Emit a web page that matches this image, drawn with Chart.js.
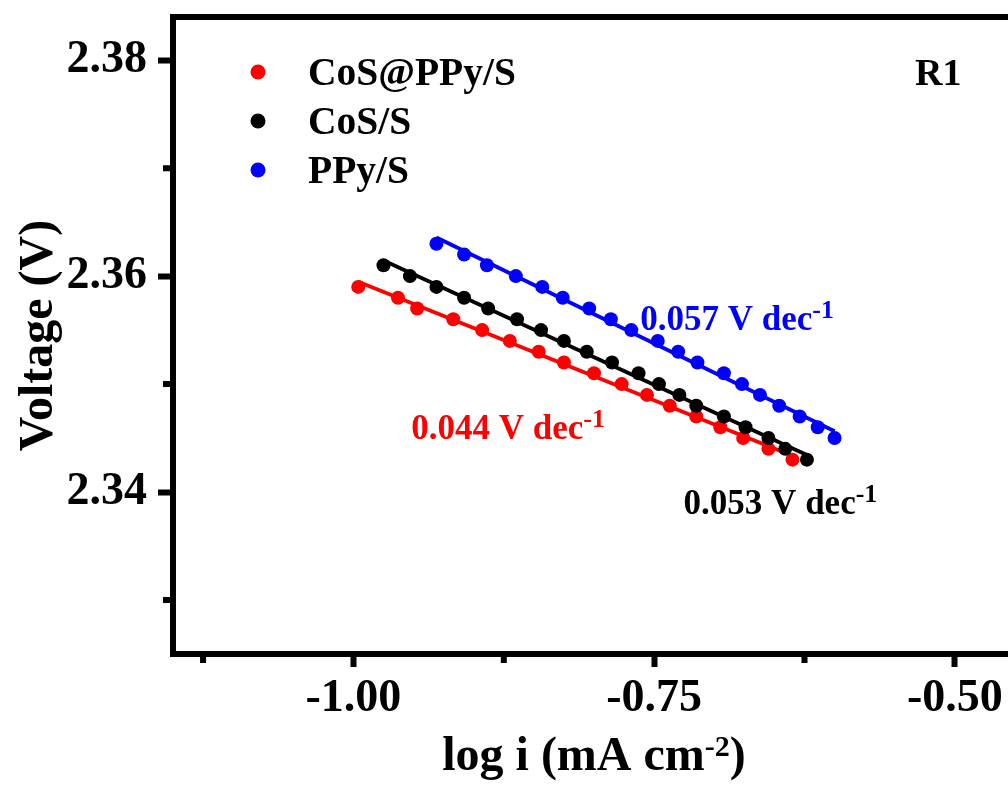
<!DOCTYPE html>
<html><head><meta charset="utf-8">
<script src="https://cdn.jsdelivr.net/npm/chart.js@4.4.1/dist/chart.umd.min.js"></script>
<style>
html,body{margin:0;padding:0;overflow:hidden;background:#fff;width:1008px;height:790px}
#wrap{position:absolute;left:0;top:0;width:1040px;height:790px}
</style>
</head><body>
<div id="wrap"><canvas id="c" width="1040" height="790"></canvas></div>
<script>
// ---------------- data ----------------
const seriesNames = ['CoS@PPy/S', 'CoS/S', 'PPy/S'];
const slopeTexts = ['0.044', '0.053', '0.057'];

const redX = [-0.996, -0.963, -0.947, -0.917, -0.893, -0.870, -0.846, -0.825, -0.800, -0.777, -0.756, -0.737, -0.715, -0.695, -0.676, -0.655, -0.635];
const redY = [2.359, 2.358, 2.357, 2.356, 2.355, 2.354, 2.353, 2.352, 2.351, 2.350, 2.349, 2.348, 2.347, 2.346, 2.345, 2.344, 2.343];

const blackX = [-0.975, -0.953, -0.931, -0.908, -0.888, -0.864, -0.844, -0.825, -0.806, -0.785, -0.763, -0.746, -0.729, -0.715, -0.692, -0.674, -0.655, -0.641, -0.623];
const blackY = [2.361, 2.360, 2.359, 2.358, 2.357, 2.356, 2.355, 2.354, 2.353, 2.352, 2.351, 2.350, 2.349, 2.348, 2.347, 2.346, 2.345, 2.344, 2.343];

const blueX = [-0.931, -0.908, -0.889, -0.865, -0.843, -0.826, -0.804, -0.786, -0.769, -0.747, -0.730, -0.714, -0.692, -0.677, -0.662, -0.646, -0.629, -0.614, -0.600];
const blueY = [2.363, 2.362, 2.361, 2.360, 2.359, 2.358, 2.357, 2.356, 2.355, 2.354, 2.353, 2.352, 2.351, 2.350, 2.349, 2.348, 2.347, 2.346, 2.345];

const xTickValues = [-1.00, -0.75, -0.50];
const xMinorTicks = [-1.125, -0.875, -0.625];
const yTickValues = [2.34, 2.36, 2.38];
const yMinorTicks = [2.33, 2.35, 2.37];

// ---------------- styles / layout ----------------
const colors = ['#ff0000', '#000000', '#0000ff'];
const FONT = '"Liberation Serif", "Times New Roman", serif';
// slope label anchors (data coordinates of the left end of the text baseline)
const slopeAnchors = [
  { x: -0.952, y: 2.3449 },
  { x: -0.7255, y: 2.3380 },
  { x: -0.7615, y: 2.3550 }
];

const xs = [redX, blackX, blueX];
const ys = [redY, blackY, blueY];

function linFit(X, Y) {
  const n = X.length;
  let sx = 0, sy = 0, sxx = 0, sxy = 0;
  for (let i = 0; i < n; i++) { sx += X[i]; sy += Y[i]; sxx += X[i] * X[i]; sxy += X[i] * Y[i]; }
  const m = (n * sxy - sx * sy) / (n * sxx - sx * sx);
  const b = (sy - m * sx) / n;
  const x0 = Math.min(...X), x1 = Math.max(...X);
  return [{ x: x0, y: m * x0 + b }, { x: x1, y: m * x1 + b }];
}

const datasets = [];
const pointOrder = [2, 1, 0];
seriesNames.forEach((name, i) => {
  datasets.push({
    label: name,
    data: xs[i].map((x, k) => ({ x: x, y: ys[i][k] })),
    backgroundColor: colors[i],
    borderColor: colors[i],
    borderWidth: 0,
    pointRadius: 7,
    pointHoverRadius: 7,
    showLine: false,
    order: pointOrder[i]
  });
});
seriesNames.forEach((name, i) => {
  datasets.push({
    label: name + ' fit',
    data: linFit(xs[i], ys[i]),
    borderColor: colors[i],
    backgroundColor: colors[i],
    borderWidth: 3.8,
    pointRadius: 0,
    showLine: true,
    fill: false,
    order: 5 + i
  });
});

function drawSupText(ctx, x, y, main, sup, tail, size, supSize, raise, color) {
  ctx.save();
  ctx.fillStyle = color;
  ctx.textBaseline = 'alphabetic';
  ctx.textAlign = 'left';
  ctx.font = 'bold ' + size + 'px ' + FONT;
  ctx.fillText(main, x, y);
  let cx = x + ctx.measureText(main).width;
  ctx.font = 'bold ' + supSize + 'px ' + FONT;
  ctx.fillText(sup, cx, y - raise);
  cx += ctx.measureText(sup).width;
  if (tail) {
    ctx.font = 'bold ' + size + 'px ' + FONT;
    ctx.fillText(tail, cx, y);
  }
  ctx.restore();
}
function supWidth(ctx, main, sup, tail, size, supSize) {
  ctx.save();
  ctx.font = 'bold ' + size + 'px ' + FONT;
  let w = ctx.measureText(main).width + (tail ? ctx.measureText(tail).width : 0);
  ctx.font = 'bold ' + supSize + 'px ' + FONT;
  w += ctx.measureText(sup).width;
  ctx.restore();
  return w;
}

const decor = {
  id: 'decor',
  afterDraw(chart) {
    const ctx = chart.ctx;
    const a = chart.chartArea;
    const sx = chart.scales.x, sy = chart.scales.y;
    ctx.save();
    // frame top & right
    ctx.strokeStyle = '#000';
    ctx.lineWidth = 6;
    ctx.beginPath();
    ctx.moveTo(a.left - 3, a.top);
    ctx.lineTo(a.right + 3, a.top);
    ctx.moveTo(a.right, a.top - 3);
    ctx.lineTo(a.right, a.bottom + 3);
    ctx.stroke();
    // minor ticks
    ctx.beginPath();
    xMinorTicks.forEach(v => {
      const px = sx.getPixelForValue(v);
      ctx.moveTo(px, a.bottom);
      ctx.lineTo(px, a.bottom + 9);
    });
    yMinorTicks.forEach(v => {
      const py = sy.getPixelForValue(v);
      ctx.moveTo(a.left, py);
      ctx.lineTo(a.left - 10, py);
    });
    ctx.stroke();

    // axis titles
    ctx.fillStyle = '#000';
    ctx.font = 'bold 48px ' + FONT;
    ctx.textAlign = 'center';
    ctx.textBaseline = 'alphabetic';
    ctx.save();
    ctx.translate(52, (a.top + a.bottom) / 2);
    ctx.rotate(-Math.PI / 2);
    ctx.fillText('Voltage (V)', 0, 0);
    ctx.restore();

    const tw = supWidth(ctx, 'log i (mA cm', '-2', ')', 48, 30);
    drawSupText(ctx, (a.left + a.right) / 2 - tw / 2, 770, 'log i (mA cm', '-2', ')', 48, 30, 14, '#000');

    // legend
    seriesNames.forEach((name, i) => {
      const yy = 72 + i * 49;
      ctx.beginPath();
      ctx.fillStyle = colors[i];
      ctx.arc(258, yy, 7.5, 0, Math.PI * 2);
      ctx.fill();
      ctx.fillStyle = '#000';
      ctx.font = 'bold 39.5px ' + FONT;
      ctx.textAlign = 'left';
      ctx.textBaseline = 'alphabetic';
      ctx.fillText(name, 308, yy + 13);
    });

    // R1
    ctx.fillStyle = '#000';
    ctx.font = 'bold 38px ' + FONT;
    ctx.textAlign = 'left';
    ctx.fillText('R1', 915, 85);

    // slope labels
    slopeTexts.forEach((t, i) => {
      const px = sx.getPixelForValue(slopeAnchors[i].x);
      const py = sy.getPixelForValue(slopeAnchors[i].y);
      drawSupText(ctx, px, py, t + ' V dec', '-1', '', 35, 26, 12, colors[i]);
    });
    ctx.restore();
  }
};

const tickFont = { family: FONT, weight: 'bold', size: 46 };

new Chart(document.getElementById('c'), {
  type: 'scatter',
  data: { datasets },
  options: {
    responsive: false,
    animation: false,
    devicePixelRatio: 1,
    layout: { padding: { top: 17, right: 25, bottom: 0, left: 0 } },
    plugins: { legend: { display: false }, tooltip: { enabled: false } },
    scales: {
      x: {
        type: 'linear',
        position: 'bottom',
        min: -1.15,
        max: -0.45,
        afterBuildTicks: s => { s.ticks = xTickValues.map(v => ({ value: v })); },
        afterFit: s => { s.height = 136; s.paddingLeft = 0; s.paddingRight = 0; },
        ticks: { font: tickFont, color: '#000', padding: 5, maxRotation: 0, autoSkip: false,
                 callback: v => Number(v).toFixed(2) },
        grid: { drawOnChartArea: false, drawTicks: true, tickLength: 13, tickWidth: 6, tickColor: '#000' },
        border: { display: true, width: 6, color: '#000' }
      },
      y: {
        type: 'linear',
        position: 'left',
        min: 2.325,
        max: 2.384,
        afterBuildTicks: s => { s.ticks = yTickValues.map(v => ({ value: v })); },
        afterFit: s => { s.width = 173; s.paddingTop = 0; s.paddingBottom = 0; },
        ticks: { font: tickFont, color: '#000', padding: 11, autoSkip: false,
                 callback: v => Number(v).toFixed(2) },
        grid: { drawOnChartArea: false, drawTicks: true, tickLength: 15, tickWidth: 6, tickColor: '#000' },
        border: { display: true, width: 6, color: '#000' }
      }
    }
  },
  plugins: [decor]
});
</script>
</body></html>
